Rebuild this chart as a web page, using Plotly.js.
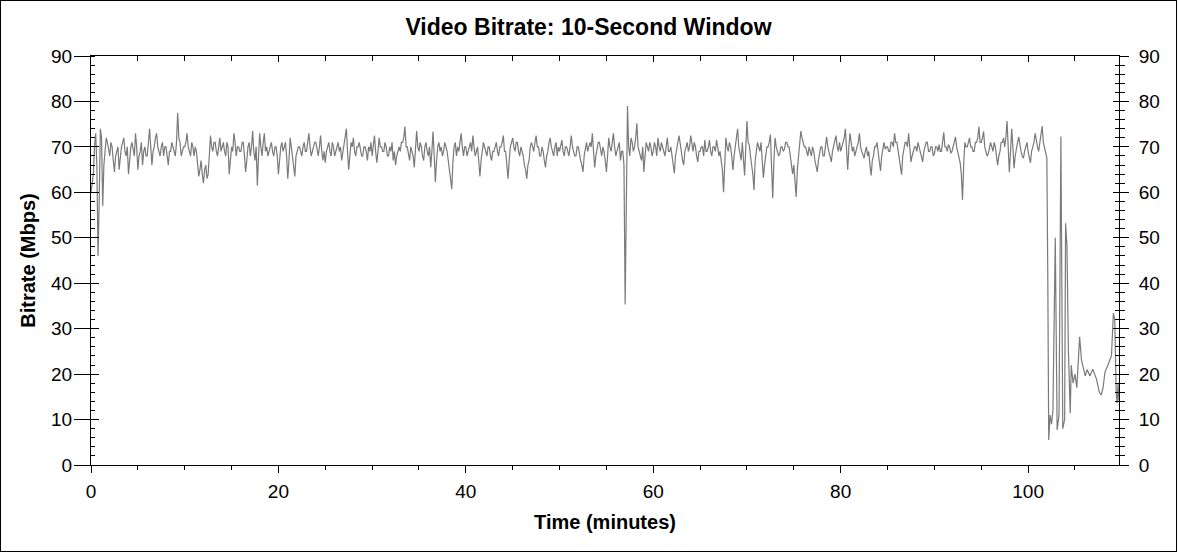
<!DOCTYPE html>
<html>
<head>
<meta charset="utf-8">
<script src="https://cdn.plot.ly/plotly-3.0.1.min.js"></script>
<style>
  html, body { margin: 0; padding: 0; background: #ffffff; }
  #chart { width: 1175px; height: 550px; border: 1px solid #000000; }
</style>
</head>
<body>
<div id="chart"></div>
<script>
// Sampled every 0.125 minutes from 0 to 101.875 min (values in Mbps)
const bodyStep = 0.125;
const bodyValues = [
  60,62, 64,70, 73,66, 46,58, 74,72, 57,66, 70,72, 71,69, 68,71, 70,67, 64.5,68, 69,70, 65,68, 70,71, 72,69, 68,70, 64,67, 70,71, 69,68, 73,70,
  65,68, 69,71, 66,69, 70,68, 68,71, 74,70, 66,69, 70,72, 73,70, 69,68, 70,71, 68,70, 70,68, 66,69, 69,71, 70,69, 68,71, 77.5,72, 71,68, 69,70,
  70,71, 73,70, 69,68, 71,70, 68,70, 69,66, 63.5,65, 67,64, 62,65, 66,63, 64,68, 72.5,70, 69,71, 71,69, 68,70, 72,69, 70,71, 69,68, 71,70, 64,68,
  70,69, 73,71, 68,70, 70,69, 69,71, 71,68, 64.5,67, 70,71, 68,70, 73.5,69, 67,70, 61.5,68, 73,70, 68,71, 73,69, 70,68, 69,70, 71,69, 68,70, 70,68,
  64,67, 70,71, 69,70, 71,68, 63,67, 72,70, 68,66, 63.5,68, 69,70, 70,69, 68,70, 71,69, 69,71, 73,70, 68,69, 70,71, 71,69, 68,70, 72.5,69, 67,69,
  66.5,69, 70,71, 69,68, 71,70, 68,69, 70,71, 69,70, 67,69, 70,72, 74,69, 65,68, 71,70, 72,69, 68,70, 70,71, 69,68, 68,70, 70,69, 67,70, 69,71,
  68,70, 72.5,69, 66.5,69, 72,70, 70,69, 69,71, 70,68, 68,70, 69,71, 67,69, 66,68, 69,70, 69,71, 71,72, 74.5,70, 70,68, 67,70, 69,68, 65.5,69, 73.5,70,
  69,71, 70,68, 67,70, 71,69, 68,70, 65.5,69, 73.4,68, 62.3,67, 70,71, 69,70, 68,69, 71,70, 69,67, 65,63, 60.7,67, 70,71, 68,70, 69,71, 73,70, 68,70,
  70,68, 69,70, 71,69, 72.5,70, 68,69, 70,67, 63.5,67, 69,71, 70,69, 68,70, 70,68, 67,69, 69,70, 71,69, 68,70, 70,71, 72.5,69, 69,66, 63,67, 70,71,
  72,70, 69,71, 71,69, 68,70, 69,68, 66,65, 63,66, 67,70, 71,70, 69,71, 72.5,70, 70,68, 68,70, 69,67, 65.5,68, 69,71, 72,70, 69,68, 70,71, 68,70,
  69,70, 71.5,69, 68,70, 70,69, 68,70, 72.5,70, 69,68, 68,70, 70,68, 67,66, 64.5,68, 70,71, 69,70, 71,70, 73,69, 65.5,68, 70,71, 71,69, 68,70, 69,67,
  64.5,68, 72,70, 69,71, 73,70, 68,69, 70,71, 67,69, 69,66, 35.3,60, 79,70, 68,72, 71,69, 70,72, 75.2,70, 69,68, 67,70, 64.5,68, 71,70, 69,71, 70,68,
  69,71, 70,68, 72,70, 69,71, 70,69, 68,70, 72,69, 69,70, 68,66, 64.2,68, 70,71, 72.5,70, 69,67, 66,69, 70,71, 69,70, 72.5,70, 69,71, 70,68, 66.7,69,
  69,70, 70,68, 71.5,69, 69,70, 71.5,69, 68,70, 70,69, 71.5,70, 68,69, 67,65, 60,68, 72,70, 69,71, 70,68, 64.9,68, 70,72, 74,70, 68,67, 71,68, 63.7,70,
  75.7,71, 70.4,68, 66,64, 60.5,67, 69,71, 70,69, 71,67, 63.2,66, 68,70, 70,71, 72.7,66, 58.7,67, 72,70, 69,68, 68.5,70, 70,69, 69.5,71, 71,70, 70,68, 66,64,
  66,62, 59,65, 68,71, 73.5,72, 71,70, 70,69, 68,70, 69,68, 70,69, 67,66, 64.5,67, 69,70, 70,68, 68,70, 72.2,70, 69,68, 66.7,69, 70,71, 72.5,70, 69,71,
  69,70, 71,72, 74,69, 65,70, 73,71, 69,70, 68,69, 70,71, 73,70, 69,68, 67.5,69, 70,68, 69,66, 63.7,67, 68,70, 70,71, 69,67, 64.7,68, 70,71, 69.5,70,
  70,69, 69,71, 71,70, 73,71, 71,69, 68,66, 63.9,68, 70,71, 71,70, 73,69, 66.7,68, 69,70, 70,69, 71,70, 69,68, 66.7,69, 70,71, 71,69, 69,70, 70,68,
  68.5,70, 70,69, 70.5,69, 69,71, 73.2,70, 70,69, 70.5,70, 68.6,69, 70,71, 72.2,70, 69,68, 66.5,64, 58.3,66, 71,70, 70,71, 72,70, 70,69, 69,71, 71,72, 74.5,71,
  71,72, 73.4,70, 69,68, 68.5,70, 71,70, 69,71, 70,68, 66,68, 69,71, 71,72, 70,72, 75.7,70, 64.4,69, 74,70, 65.3,68, 70,71, 72.2,70, 69,68, 67.5,69, 70,71,
  69,68, 66.5,69, 70,71, 73,71, 70,69, 71,72, 74.6,71, 70,69
];

// Final section (credits), read at irregular times
const tailTimes = [
  102.0, 102.1, 102.2, 102.35, 102.5, 102.65, 102.9, 103.1, 103.3, 103.5,
  103.7, 103.9, 104.0, 104.15, 104.3, 104.5, 104.6, 104.8, 105.0, 105.2,
  105.5, 105.7, 105.9, 106.1, 106.3, 106.6, 106.9, 107.1, 107.3, 107.6,
  107.8, 108.0, 108.2, 108.5, 108.9, 109.1, 109.25, 109.4, 109.5, 109.6, 109.7
];
const tailValues = [
  67.6, 42, 5.5, 11, 9, 12, 50, 7.7, 11, 72.3,
  8, 10, 53.2, 48, 25, 11.4, 22, 18, 20, 17,
  28.2, 23, 21, 19.6, 21, 19.6, 21.1, 20, 18.9, 16,
  15.4, 17, 20.4, 21.9, 24.1, 33.4, 32, 15.9, 13.6, 18, 14
];

const xTickValues = [0, 20, 40, 60, 80, 100];
const yTickValues = [0, 10, 20, 30, 40, 50, 60, 70, 80, 90];

const time = bodyValues.map((_, i) => i * bodyStep).concat(tailTimes);
const bitrate = bodyValues.concat(tailValues);

const xRange = [0, 109.7];
const yRange = [0, 90];
const FONT = 'Liberation Sans, Arial, sans-serif';
const tickFont = { family: FONT, size: 19, color: '#000000' };
const titleFont = { family: FONT, size: 20, color: '#000000', weight: 'bold' };

const trace = {
  x: time, y: bitrate, type: 'scatter', mode: 'lines',
  line: { color: '#7a7a7a', width: 1.2 },
  hoverinfo: 'skip', showlegend: false
};
// invisible copies so that the mirrored axes get drawn
const ghost = (xa, ya) => ({ x: time, y: bitrate, xaxis: xa, yaxis: ya, type: 'scatter', mode: 'lines',
  line: { color: 'rgba(0,0,0,0)', width: 0 }, opacity: 0, hoverinfo: 'skip', showlegend: false });

const baseAxis = { showgrid: false, zeroline: false, showline: true, linecolor: '#000000', linewidth: 1,
  tickcolor: '#000000', tickwidth: 1, fixedrange: true, autorange: false };

const layout = {
  width: 1175, height: 550,
  margin: { l: 90, r: 57, t: 55, b: 86 },
  paper_bgcolor: '#ffffff', plot_bgcolor: '#ffffff',
  title: { text: 'Video Bitrate: 10-Second Window', font: { family: FONT, size: 23, color: '#000000', weight: 'bold' },
    x: 0.5, xanchor: 'center', y: 1 - 26 / 550, yanchor: 'middle' },
  xaxis: Object.assign({}, baseAxis, {
    range: xRange, tickmode: 'array', tickvals: xTickValues, ticktext: xTickValues.map(String),
    ticks: 'outside', ticklen: 7, tickfont: tickFont, ticklabelstandoff: 2,
    minor: { dtick: 5, tick0: 0, ticks: 'outside', ticklen: 4, tickcolor: '#000000', tickwidth: 1, showgrid: false },
    title: { text: 'Time (minutes)', font: titleFont, standoff: 14 }
  }),
  xaxis2: Object.assign({}, baseAxis, {
    range: xRange, overlaying: 'x', side: 'top', anchor: 'y', tickmode: 'array', tickvals: xTickValues,
    ticks: 'inside', ticklen: 6, showticklabels: false,
    minor: { dtick: 5, tick0: 0, ticks: 'inside', ticklen: 5, tickcolor: '#000000', tickwidth: 1, showgrid: false }
  }),
  yaxis: Object.assign({}, baseAxis, {
    range: yRange, tickmode: 'array', tickvals: yTickValues, ticktext: yTickValues.map(String),
    ticks: 'outside', ticklen: 16, tickfont: tickFont, ticklabelstandoff: -2,
    minor: { dtick: 2, tick0: 0, ticks: 'inside', ticklen: 4, tickcolor: '#000000', tickwidth: 1, showgrid: false },
    title: { text: 'Bitrate (Mbps)', font: titleFont, standoff: 10 }
  }),
  yaxis3: Object.assign({}, baseAxis, {
    range: yRange, overlaying: 'y', side: 'left', anchor: 'x', tickmode: 'array', tickvals: yTickValues,
    ticks: 'inside', ticklen: 8, showticklabels: false
  }),
  yaxis2: Object.assign({}, baseAxis, {
    range: yRange, overlaying: 'y', side: 'right', anchor: 'x2', tickmode: 'array', tickvals: yTickValues,
    ticktext: yTickValues.map(String),
    ticks: 'outside', ticklen: 9, tickfont: tickFont, ticklabelstandoff: 6,
    minor: { dtick: 2, tick0: 0, ticks: 'outside', ticklen: 5, tickcolor: '#000000', tickwidth: 1, showgrid: false }
  }),
  yaxis4: Object.assign({}, baseAxis, {
    range: yRange, overlaying: 'y', side: 'right', anchor: 'x', tickmode: 'array', tickvals: yTickValues,
    ticks: 'inside', ticklen: 6, showticklabels: false,
    minor: { dtick: 2, tick0: 0, ticks: 'inside', ticklen: 4, tickcolor: '#000000', tickwidth: 1, showgrid: false }
  })
};

Plotly.newPlot('chart', [ghost('x2', 'y2'), ghost('x', 'y3'), ghost('x', 'y4'), trace], layout,
  { displayModeBar: false, staticPlot: true });
</script>
</body>
</html>
